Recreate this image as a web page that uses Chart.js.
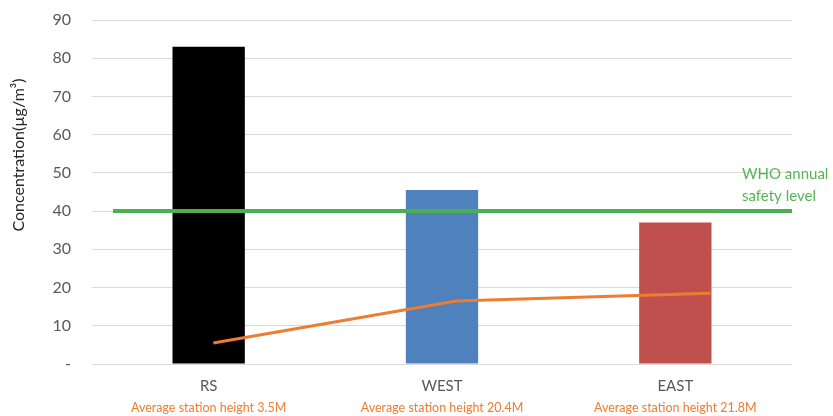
<!DOCTYPE html>
<html><head><meta charset="utf-8">
<script src="https://cdn.jsdelivr.net/npm/chart.js@4"></script>
<style>html,body{margin:0;padding:0;background:#fff}canvas{display:block}</style>
</head><body>
<canvas id="c" width="833" height="416"></canvas>
<script>
const categories = ['RS', 'WEST', 'EAST'];
const subtitles = ['Average station height 3.5M', 'Average station height 20.4M', 'Average station height 21.8M'];
const concentrations = [83, 45.5, 37];
const barColors = ['#000000', '#4F81BD', '#C0504D'];
const heightLineX = [0.02, 1.06, 2.15];
const heightLineY = [5.5, 16.5, 18.5];
const whoLevel = 40;
const whoLineX = [-0.41, 2.5];
const whoLabel = ['WHO annual', 'safety level'];
const yTitle = 'Concentration(µg/m³)';

const FONT = 'Lato, "Open Sans", sans-serif';

const textPlugin = {
  id: 'extraText',
  afterDraw(chart) {
    const ctx = chart.ctx;
    const ys = chart.scales.y;
    ctx.save();
    ctx.fillStyle = '#55B555';
    ctx.font = '15px ' + FONT;
    ctx.textAlign = 'left';
    ctx.textBaseline = 'middle';
    const yw = ys.getPixelForValue(whoLevel);
    ctx.fillText(whoLabel[0], 742, yw - 37);
    ctx.fillText(whoLabel[1], 742, yw - 15);
    ctx.fillStyle = '#262626';
    ctx.font = '16px ' + FONT;
    ctx.translate(19, 155);
    ctx.rotate(-Math.PI / 2);
    ctx.textAlign = 'center';
    ctx.textBaseline = 'middle';
    ctx.fillText(yTitle, 0, 0);
    ctx.restore();
  }
};

new Chart(document.getElementById('c'), {
  type: 'bar',
  data: {
    labels: categories,
    datasets: [
      {
        type: 'line',
        data: heightLineX.map((x, i) => ({x: x, y: heightLineY[i]})),
        xAxisID: 'xl', yAxisID: 'y',
        borderColor: '#ED7D31', borderWidth: 3, pointRadius: 0, tension: 0, order: 0
      },
      {
        type: 'line',
        data: whoLineX.map(x => ({x: x, y: whoLevel})),
        xAxisID: 'xl', yAxisID: 'y',
        borderColor: '#4CAF50', borderWidth: 4, pointRadius: 0, order: 1
      },
      {
        type: 'bar',
        data: concentrations,
        xAxisID: 'x', yAxisID: 'y',
        backgroundColor: barColors,
        grouped: false,
        categoryPercentage: 1, barPercentage: 0.31, order: 2
      }
    ]
  },
  options: {
    responsive: false,
    devicePixelRatio: 1,
    animation: false,
    layout: {padding: {left: 0, right: 41, top: 20, bottom: 0}},
    plugins: {legend: {display: false}, tooltip: {enabled: false}},
    scales: {
      x: {
        type: 'category', position: 'bottom', weight: 1,
        grid: {display: false, drawTicks: false}, border: {display: false},
        ticks: {color: '#595959', font: {family: FONT, size: 15}, padding: 13, maxRotation: 0},
        afterFit(s) { s.height = 30; }
      },
      x2: {
        type: 'category', position: 'bottom', weight: 2, labels: subtitles,
        grid: {display: false, drawTicks: false}, border: {display: false},
        ticks: {color: '#ED7D31', font: {family: FONT, size: 12.5}, padding: 6, maxRotation: 0, autoSkip: false},
        afterFit(s) { s.height = 22; }
      },
      xl: {type: 'linear', display: false, min: -0.5, max: 2.5, offset: false},
      y: {
        min: 0, max: 90,
        ticks: {stepSize: 10, color: '#595959', font: {family: FONT, size: 16}, padding: 21,
          callback: v => v === 0 ? '-' : v},
        grid: {color: '#D9D9D9', drawTicks: false},
        border: {display: false},
        afterFit(s) { s.width = 92; s.paddingTop = 0; s.paddingBottom = 0; }
      }
    }
  },
  plugins: [textPlugin]
});
</script>
</body></html>
